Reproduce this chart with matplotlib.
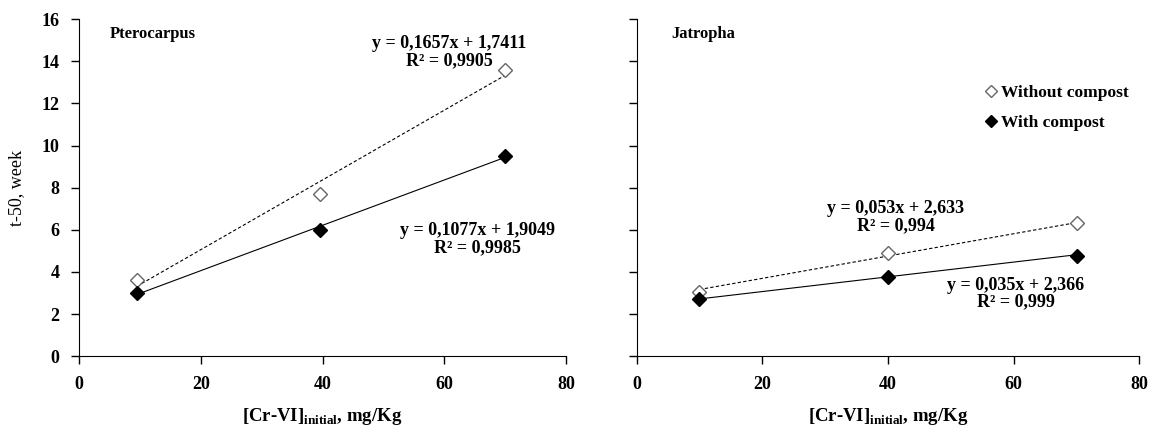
import numpy as np
import matplotlib
matplotlib.use("Agg")
import matplotlib.pyplot as plt

plt.rcParams["font.family"] = "Liberation Serif"
plt.rcParams["font.weight"] = "bold"
plt.rcParams["mathtext.fontset"] = "custom"
plt.rcParams["mathtext.rm"] = "Liberation Serif"
plt.rcParams["mathtext.bf"] = "Liberation Serif:bold"

# Pterocarpus
ptero_x = [9.5, 39.5, 70]
ptero_without = [3.6, 7.7, 13.6]
ptero_with = [3.0, 6.0, 9.5]
ptero_fit_without = (0.1657, 1.7411)
ptero_fit_with = (0.1077, 1.9049)

# Jatropha
jat_x = [10, 40, 70]
jat_without = [3.05, 4.9, 6.3]
jat_with = [2.7, 3.75, 4.75]
jat_fit_without = (0.053, 2.633)
jat_fit_with = (0.035, 2.366)

fig = plt.figure(figsize=(11.51, 4.26), dpi=100)
ax1 = fig.add_axes([0.0686, 0.164, 0.4234, 0.791])
ax2 = fig.add_axes([0.553, 0.164, 0.437, 0.791])


def draw(ax, x, wo, w, fit_wo, fit_w):
    x = np.array(x)
    ax.plot(x, fit_wo[0] * x + fit_wo[1], color="black", lw=0.8, ls=(0, (3, 2)))
    ax.plot(x, fit_w[0] * x + fit_w[1], color="black", lw=0.8)
    ax.plot(x, wo, ls="none", marker="D", ms=7.5, mfc="white", mec="#666666",
            mew=1, label="Without compost")
    ax.plot(x, w, ls="none", marker="D", ms=7.5, mfc="black", mec="black",
            label="With compost")
    ax.set_xlim(0, 80)
    ax.set_ylim(0, 16)
    ax.set_xticks([0, 20, 40, 60, 80])
    ax.set_yticks(range(0, 17, 2))
    for s in ["top", "right"]:
        ax.spines[s].set_visible(False)
    ax.tick_params(direction="out", length=6, labelsize=13, width=1, pad=8)
    ax.set_xlabel("[Cr-VI]$_{\\mathbf{initial}}$, mg/Kg", fontsize=13.5,
                  fontweight="bold", labelpad=10)


draw(ax1, ptero_x, ptero_without, ptero_with, ptero_fit_without, ptero_fit_with)
draw(ax2, jat_x, jat_without, jat_with, jat_fit_without, jat_fit_with)

ax1.set_ylabel("t-50, week", fontsize=13, fontweight="normal", labelpad=12)
ax2.set_yticklabels([])

ax1.text(5, 15.3, "Pterocarpus", fontsize=12, va="center", ha="left")
ax2.text(5.5, 15.3, "Jatropha", fontsize=12, va="center", ha="left")

ax1.text(60.8, 14.45, "y = 0,1657x + 1,7411\nR² = 0,9905", ha="center",
         va="center", fontsize=13, linespacing=1.0)
ax1.text(65.4, 5.55, "y = 0,1077x + 1,9049\nR² = 0,9985", ha="center",
         va="center", fontsize=13, linespacing=1.0)
ax2.text(41.2, 6.6, "y = 0,053x + 2,633\nR² = 0,994", ha="center",
         va="center", fontsize=13, linespacing=1.0)
ax2.text(60.3, 2.97, "y = 0,035x + 2,366\nR² = 0,999", ha="center",
         va="center", fontsize=13, linespacing=1.0)

ax2.legend(loc="upper right", bbox_to_anchor=(1.01, 0.85), frameon=False,
           fontsize=12.5, handletextpad=0.1, handlelength=1.0, labelspacing=0.75,
           markerscale=0.8)

fig.savefig("out.png", dpi=100)
